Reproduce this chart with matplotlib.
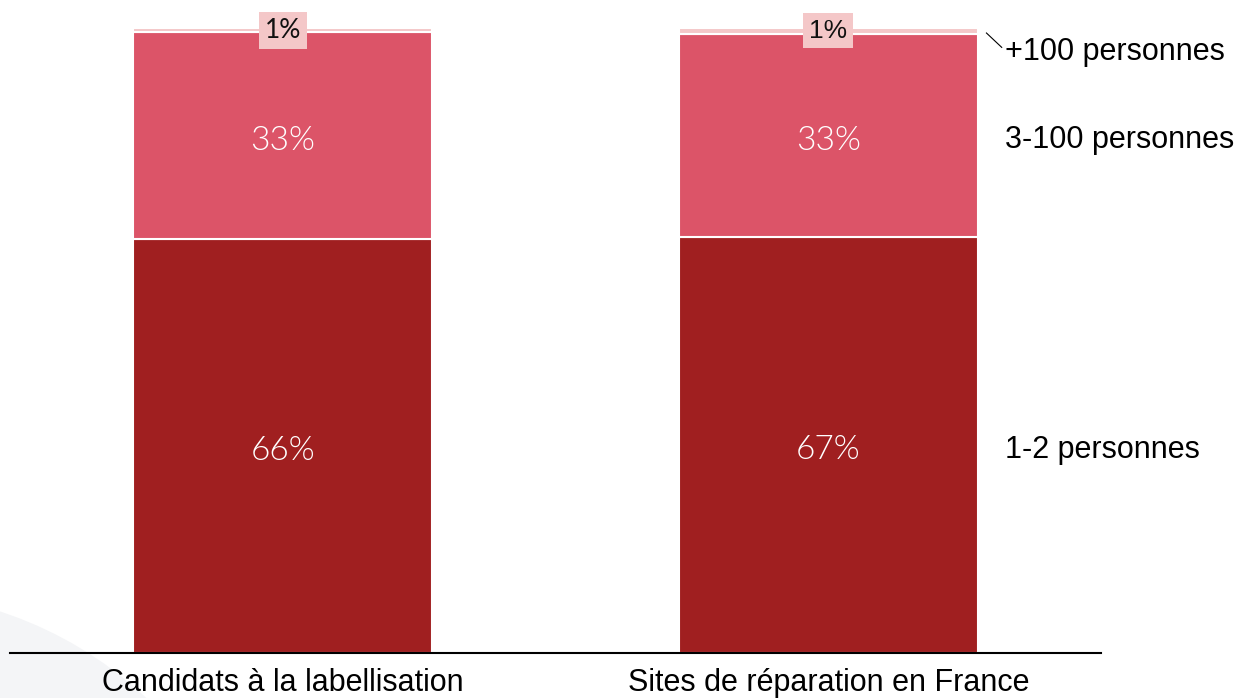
import matplotlib.pyplot as plt
from matplotlib.patches import Circle

categories = ['Candidats à la labellisation', 'Sites de réparation en France']
groups = ['1-2 personnes', '3-100 personnes', '+100 personnes']
# segment sizes (bottom to top)
small = [66.3, 66.6]
medium = [33.1, 32.5]
large = [0.6, 0.9]
shown = [['66%', '67%'], ['33%', '33%'], ['1%', '1%']]

colors = ['#A01F20', '#DC5468', '#F4C7C8']

fig = plt.figure(figsize=(12.39, 6.98), dpi=100)

# faint grey swoosh in the bottom-left corner
bg = fig.add_axes([0, 0, 1, 1], zorder=-1)
bg.set_xlim(0, 1239)
bg.set_ylim(698, 0)
bg.axis('off')
bg.add_patch(Circle((-122, 985), 393, color='#F4F5F7', lw=0))

ax = fig.add_axes([10 / 1239, 1 - 653 / 698, 1091 / 1239, 625 / 698])
ax.patch.set_alpha(0)

x = [0, 1]
w = 0.548
bottom = [0, 0]
for vals, col, labs in zip([small, medium, large], colors, shown):
    ax.bar(x, vals, w, bottom=bottom, color=col, edgecolor='white', linewidth=1.5)
    for i in x:
        mid = bottom[i] + vals[i] / 2
        if vals[i] > 5:
            ax.annotate(labs[i], (i, mid), xytext=(0, -4), textcoords='offset points',
                        ha='center', va='center', color='white',
                        fontsize=24, family='Lato', fontweight=300)
        else:
            fam = 'Lato' if i == 0 else 'Liberation Sans'
            ax.text(i, 99.6, labs[i], ha='center', va='center', color='#111111',
                    fontsize=19, family=fam,
                    bbox=dict(boxstyle='square,pad=0.22', fc='#F4C7C8', ec='none'))
    bottom = [b + v for b, v in zip(bottom, vals)]

ax.set_xlim(-0.5, 1.5)
ax.set_ylim(0, 100)
ax.set_yticks([])
ax.set_xticks(x)
ax.set_xticklabels(categories, fontsize=22, family='Liberation Sans')
ax.tick_params(axis='x', length=0, pad=11)
for s in ['top', 'right', 'left']:
    ax.spines[s].set_visible(False)
ax.spines['bottom'].set_linewidth(1.5)

# series labels to the right of the second bar
xr = 1.324
lab = dict(xytext=(0, -3.5), textcoords='offset points', ha='left', va='center',
           fontsize=22, family='Liberation Sans', annotation_clip=False)
ax.annotate(groups[0], (xr, small[1] / 2), **lab)
ax.annotate(groups[1], (xr, small[1] + medium[1] / 2), **lab)
ax.annotate(groups[2], (xr, 97.0), **lab)
ax.plot([1.29, 1.318], [99.2, 96.9], color='black', lw=0.8, clip_on=False)

fig.savefig('out.png', dpi=100)
